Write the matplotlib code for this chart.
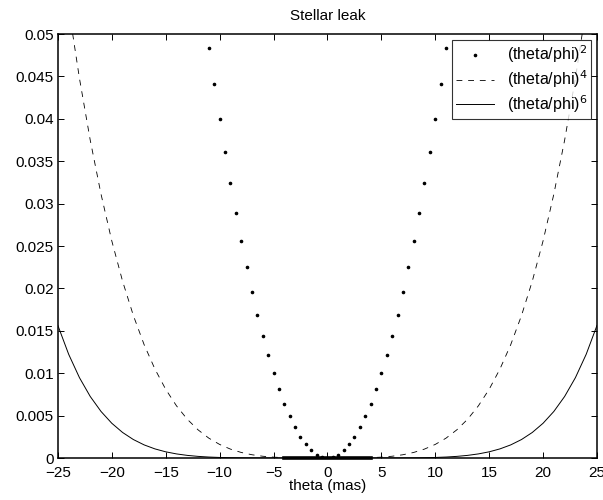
import matplotlib
matplotlib.use("Agg")
import matplotlib.pyplot as plt

plt.rcParams['font.family'] = ['Liberation Sans', 'DejaVu Sans']
plt.rcParams['mathtext.fontset'] = 'custom'
plt.rcParams['mathtext.rm'] = 'Liberation Sans'
plt.rcParams['mathtext.it'] = 'Liberation Sans'

theta_dots = [-11, -10.5, -10, -9.5, -9, -8.5, -8, -7.5, -7, -6.5, -6, -5.5, -5, -4.5,
              -4, -3.5, -3, -2.5, -2, -1.5, -1, -0.5, 0, 0.5, 1, 1.5, 2, 2.5, 3, 3.5,
              4, 4.5, 5, 5.5, 6, 6.5, 7, 7.5, 8, 8.5, 9, 9.5, 10, 10.5, 11]
leak_2 = [0.0484, 0.0441, 0.0400, 0.0361, 0.0324, 0.0289, 0.0256, 0.0225, 0.0196, 0.0169,
          0.0144, 0.0121, 0.0100, 0.0081, 0.0064, 0.0049, 0.0036, 0.0025, 0.0016, 0.0009,
          0.0004, 0.0001, 0.0, 0.0001, 0.0004, 0.0009, 0.0016, 0.0025, 0.0036, 0.0049,
          0.0064, 0.0081, 0.0100, 0.0121, 0.0144, 0.0169, 0.0196, 0.0225, 0.0256, 0.0289,
          0.0324, 0.0361, 0.0400, 0.0441, 0.0484]

# theta grid for the two continuous curves
theta = [-25, -24, -23, -22, -21, -20, -19, -18, -17, -16, -15, -14, -13, -12, -11, -10,
         -9, -8, -7, -6, -5, -4, -3, -2, -1, 0, 1, 2, 3, 4, 5, 6, 7, 8, 9, 10, 11, 12,
         13, 14, 15, 16, 17, 18, 19, 20, 21, 22, 23, 24, 25]
leak_4 = [0.0625, 0.0531, 0.04477, 0.03748, 0.03112, 0.0256, 0.02085, 0.0168, 0.01336,
          0.01049, 0.0081, 0.00615, 0.00457, 0.00332, 0.00234, 0.0016, 0.00105, 0.000655,
          0.000384, 0.000207, 0.0001, 0.000041, 0.000013, 0.0000026, 0.0000002, 0.0,
          0.0000002, 0.0000026, 0.000013, 0.000041, 0.0001, 0.000207, 0.000384, 0.000655,
          0.00105, 0.0016, 0.00234, 0.00332, 0.00457, 0.00615, 0.0081, 0.01049, 0.01336,
          0.0168, 0.02085, 0.0256, 0.03112, 0.03748, 0.04477, 0.0531, 0.0625]
leak_6 = [0.015625, 0.01223, 0.009474, 0.007256, 0.005489, 0.004096, 0.003011, 0.002177,
          0.001545, 0.001074, 0.000729, 0.000482, 0.000309, 0.000191, 0.000113, 0.000064,
          0.000034, 0.0000168, 0.0000075, 0.000003, 0.000001, 0.0000003, 0.0000001, 0.0,
          0.0, 0.0, 0.0, 0.0, 0.0000001, 0.0000003, 0.000001, 0.000003, 0.0000075,
          0.0000168, 0.000034, 0.000064, 0.000113, 0.000191, 0.000309, 0.000482, 0.000729,
          0.001074, 0.001545, 0.002177, 0.003011, 0.004096, 0.005489, 0.007256, 0.009474,
          0.01223, 0.015625]

# thick segment along the axis
band_x = [-4, 4]
band_y = [0, 0]

fs = 11

fig = plt.figure(figsize=(6.03, 5.0), dpi=100)
ax = fig.add_axes([0.096, 0.084, 0.894, 0.848])

ax.plot(theta_dots, leak_2, linestyle='none', marker='.', markersize=3.2, color='black',
        label=r'(theta/phi)$^{\mathsf{2}}$')
ax.plot(theta, leak_4, linestyle=(0, (7, 7)), linewidth=0.6, color='black',
        label=r'(theta/phi)$^{\mathsf{4}}$')
ax.plot(theta, leak_6, linestyle='-', linewidth=0.7, color='black',
        label=r'(theta/phi)$^{\mathsf{6}}$')
ax.plot(band_x, band_y, linestyle='-', linewidth=2.6, color='black', clip_on=False)

ax.set_xlim(-25, 25)
ax.set_ylim(0, 0.05)
ax.set_xticks([-25, -20, -15, -10, -5, 0, 5, 10, 15, 20, 25])
ax.set_xticklabels(['\u221225', '\u221220', '\u221215', '\u221210', '\u22125', '0',
                    '5', '10', '15', '20', '25'])
ax.set_yticks([0, 0.005, 0.01, 0.015, 0.02, 0.025, 0.03, 0.035, 0.04, 0.045, 0.05])
ax.set_yticklabels(['0', '0.005', '0.01', '0.015', '0.02', '0.025', '0.03', '0.035',
                    '0.04', '0.045', '0.05'])
ax.tick_params(direction='in', top=True, right=True, length=4, width=0.7,
               labelsize=fs)
ax.tick_params(axis='x', pad=6)
ax.tick_params(axis='y', pad=3)
for s in ax.spines.values():
    s.set_linewidth(1.1)

ax.set_title('Stellar leak', fontsize=fs, pad=10)
ax.set_xlabel('theta (mas)', fontsize=fs, labelpad=-1)

leg = ax.legend(loc='upper right', fontsize=11.5, frameon=True, fancybox=False,
                borderaxespad=0.35, handlelength=2.4, labelspacing=0.2,
                borderpad=0.25, handletextpad=0.8)
leg.get_frame().set_edgecolor('black')
leg.get_frame().set_linewidth(0.8)

fig.savefig('out.png', dpi=100)
